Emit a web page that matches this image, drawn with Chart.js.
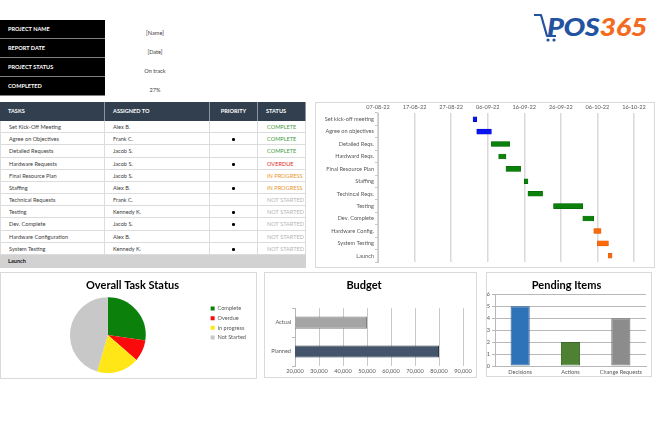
<!DOCTYPE html>
<html>
<head>
<meta charset="utf-8">
<script src="https://cdn.jsdelivr.net/npm/chart.js"></script>
<style>
body{margin:0;width:660px;height:440px;background:#fff;font-family:Lato,sans-serif;position:relative;overflow:hidden}
.abs{position:absolute;box-sizing:border-box}
.box{border:1px solid #d9d9d9;background:#fff}
.cell{position:absolute;box-sizing:border-box;font-size:5.6px;white-space:nowrap;overflow:hidden}
.info{background:#000;color:#fff;font-weight:bold;padding-left:8px;border-bottom:1px solid #7f7f7f}
.val{color:#404040;text-align:center}
.hd{background:#323f4f;color:#fff;font-weight:bold;border-right:1px solid #8a93a0}
.td{color:#404040;border-bottom:1px solid #dcdcdc;border-right:1px solid #dcdcdc}
.dot{display:inline-block;width:2.6px;height:2.6px;border-radius:50%;background:#000}
#logo{left:547px;top:12px;font-weight:900;font-style:italic;font-size:24px;letter-spacing:-0.3px;transform:scaleX(1.2);transform-origin:0 0}
</style>
</head>
<body>
<div id="tables"></div>

<svg class="abs" style="left:532px;top:12px" width="26" height="32">
  <path d="M2 3 H9 L15 24 H24" fill="none" stroke="#2352a0" stroke-width="2.2" stroke-linejoin="round"/>
  <circle cx="16" cy="28" r="1.6" fill="#2352a0"/>
  <circle cx="22" cy="28" r="1.6" fill="#2352a0"/>
</svg>
<div id="logo" class="abs"><span style="color:#2352a0">POS</span><span style="color:#f26b21">365</span></div>

<div class="abs box" style="left:315px;top:102px;width:340px;height:166px"></div>
<div class="abs" style="left:316px;top:103px;width:338px;height:164px"><canvas id="c-gantt"></canvas></div>

<div class="abs box" style="left:0;top:272px;width:257px;height:107px"></div>
<div class="abs" style="left:1px;top:273px;width:255px;height:105px"><canvas id="c-pie"></canvas></div>

<div class="abs box" style="left:264px;top:272px;width:213px;height:106px"></div>
<div class="abs" style="left:265px;top:273px;width:211px;height:104px"><canvas id="c-budget"></canvas></div>

<div class="abs box" style="left:486px;top:272px;width:166px;height:105px"></div>
<div class="abs" style="left:487px;top:273px;width:164px;height:103px"><canvas id="c-pend"></canvas></div>

<script>
// project summary
var infoLabels = ['PROJECT NAME', 'REPORT DATE', 'PROJECT STATUS', 'COMPLETED'];
var infoValues = ['[Name]', '[Date]', 'On track', '27%'];

// task list
var taskNames = ['Set Kick-Off Meeting','Agree on Objectives','Detailed Requests','Hardware Requests','Final Resource Plan','Staffing','Technical Requests','Testing','Dev. Complete','Hardware Configuration','System Testing'];
var taskOwners = ['Alex B.','Frank C.','Jacob S.','Jacob S.','Jacob S.','Alex B.','Frank C.','Kennedy K.','Jacob S.','Alex B.','Kennedy K.'];
var taskPriority = [0,1,0,1,0,1,0,1,1,0,1];
var taskStatus = ['COMPLETE','COMPLETE','COMPLETE','OVERDUE','IN PROGRESS','IN PROGRESS','NOT STARTED','NOT STARTED','NOT STARTED','NOT STARTED','NOT STARTED'];

// gantt
var ganttTasks = ['Set kick-off meeting','Agree on objectives','Detailed Reqs.','Hardward Reqs.','Final Resource Plan','Staffing','Techincal Reqs.','Testing','Dev. Complete','Hardware Config.','System Testing','Launch'];
var ganttStart = ['2022-09-02','2022-09-03','2022-09-07','2022-09-09','2022-09-11','2022-09-16','2022-09-17','2022-09-24','2022-10-02','2022-10-05','2022-10-06','2022-10-09'];
var ganttEnd   = ['2022-09-03','2022-09-07','2022-09-12','2022-09-11','2022-09-15','2022-09-17','2022-09-21','2022-10-02','2022-10-05','2022-10-07','2022-10-09','2022-10-10'];
var ganttPhase = ['plan','plan','build','build','build','build','build','build','build','launch','launch','launch'];
var ganttTicks = ['07-08-22','17-08-22','27-08-22','06-09-22','16-09-22','26-09-22','06-10-22','16-10-22'];
var ganttOrigin = '2022-08-07';

// pie
var statusLabels = ['Complete','Overdue','In progress','Not Started'];
var statusCounts = [3, 1, 2, 5];

// budget
var budgetLabels = ['Actual','Planned'];
var budgetValues = [50000, 80000];

// pending items
var pendLabels = ['Decisions','Actions','Change Requests'];
var pendValues = [5, 2, 4];

var phaseColor = {plan:'#0a14f0', build:'#0b800b', launch:'#fa6a0a'};
var phaseBorder = {plan:'#0000b0', build:'#056005', launch:'#d05000'};
var statusColor = {'COMPLETE':'#3f9a3f','OVERDUE':'#e21b1b','IN PROGRESS':'#e8962a','NOT STARTED':'#b4b4b4'};

// build the tables
var host = document.getElementById('tables');
function cell(cls, x, y, w, h, html, style) {
  var d = document.createElement('div');
  d.className = 'cell ' + cls;
  d.style.left = x + 'px'; d.style.top = y + 'px';
  d.style.width = w + 'px'; d.style.height = h + 'px';
  d.style.lineHeight = (h - 1) + 'px';
  if (style) d.style.cssText += style;
  d.innerHTML = html;
  host.appendChild(d);
}
for (var i = 0; i < infoLabels.length; i++) {
  cell('info', 0, 20 + i * 19, 105, 19, infoLabels[i]);
  cell('val', 105, 24 + i * 19, 100, 19, infoValues[i]);
}
var colX = [0, 105, 210, 258], colW = [105, 105, 48, 48];
var heads = ['TASKS', 'ASSIGNED TO', 'PRIORITY', 'STATUS'];
for (var c = 0; c < 4; c++) {
  cell('hd', colX[c], 102, colW[c], 19, heads[c], c == 2 ? 'text-align:center' : 'padding-left:8px');
}
for (var r = 0; r < taskNames.length; r++) {
  var y = Math.round(121 + r * 12.18), h = Math.round(121 + (r + 1) * 12.18) - y;
  cell('td', 0, y, 105, h, taskNames[r], 'padding-left:8px;border-left:1px solid #dcdcdc');
  cell('td', 105, y, 105, h, taskOwners[r], 'padding-left:8px');
  cell('td', 210, y, 48, h, taskPriority[r] ? '<span class="dot"></span>' : '', 'text-align:center');
  cell('td', 258, y, 48, h, taskStatus[r], 'padding-left:9px;color:' + statusColor[taskStatus[r]]);
}
cell('td', 0, 255, 306, 13, '<b style="color:#202020">Launch</b>', 'padding-left:8px;background:#d2d2d2;border:none');

Chart.defaults.font.family = 'Lato, sans-serif';
var gc = '#c8c8c8';
var tc = '#595959';

function dayOf(s) {
  return (Date.parse(s) - Date.parse(ganttOrigin)) / 86400000;
}

new Chart(document.getElementById('c-gantt'), {
  type: 'bar',
  data: {
    labels: ganttTasks,
    datasets: [{
      data: ganttTasks.map(function(t, i) { return [dayOf(ganttStart[i]), dayOf(ganttEnd[i])]; }),
      backgroundColor: ganttPhase.map(function(p) { return phaseColor[p]; }),
      borderColor: ganttPhase.map(function(p) { return phaseBorder[p]; }),
      borderWidth: 0.5, borderSkipped: false, barThickness: 5
    }]
  },
  options: {
    indexAxis: 'y', animation: false, responsive: true, maintainAspectRatio: false,
    layout: {padding: {left: 0, right: 20, top: 0, bottom: 5}},
    plugins: {legend: {display: false}, tooltip: {enabled: false}},
    scales: {
      x: {type: 'linear', position: 'top', min: 0, max: 70,
          ticks: {stepSize: 10, color: tc, font: {size: 5.6}, padding: 2, maxRotation: 0,
                  callback: function(v) { return ganttTicks[v / 10]; }},
          grid: {color: '#d9d9d9', lineWidth: 1.5, drawTicks: false}, border: {display: false},
          afterFit: function(s) { s.height = 10; }},
      y: {ticks: {color: tc, font: {size: 5.6}, padding: 1},
          grid: {drawOnChartArea: false, offset: true, tickLength: 3, color: '#c8c8c8'},
          border: {color: '#c8c8c8'},
          afterFit: function(s) { s.width = 62; }}
    }
  }
});

new Chart(document.getElementById('c-pie'), {
  type: 'pie',
  data: {labels: statusLabels, datasets: [{data: statusCounts, backgroundColor: ['#0b800b','#fa0a0a','#ffe617','#c8c8c8'], borderWidth: 0}]},
  options: {
    animation: false, responsive: true, maintainAspectRatio: false,
    layout: {padding: {left: 8, right: 0, bottom: 5}},
    plugins: {
      title: {display: true, text: 'Overall Task Status', color: '#000', font: {size: 11, weight: 'bold'}, padding: {top: 6, bottom: 5}},
      legend: {position: 'right', labels: {boxWidth: 4, boxHeight: 4, font: {size: 5.6}, color: tc, padding: 4}},
      tooltip: {enabled: false}
    }
  }
});

new Chart(document.getElementById('c-budget'), {
  type: 'bar',
  data: {labels: budgetLabels, datasets: [{data: budgetValues, backgroundColor: ['#a5a5a5','#44546a'], borderColor: ['#7f7f7f','#2c3848'], borderWidth: 1, borderSkipped: false, barPercentage: 0.42, categoryPercentage: 1}]},
  options: {
    indexAxis: 'y', animation: false, responsive: true, maintainAspectRatio: false,
    layout: {padding: {left: 0, right: 13, top: 0, bottom: 0}},
    plugins: {
      title: {display: true, text: 'Budget', color: '#000', font: {size: 11, weight: 'bold'}, padding: {top: 6, bottom: 16}},
      legend: {display: false}, tooltip: {enabled: false}
    },
    scales: {
      x: {min: 20000, max: 90000, ticks: {stepSize: 10000, color: tc, font: {size: 5.6}, padding: 2, maxRotation: 0,
            callback: function(v) { return v.toLocaleString('en-US'); }},
          grid: {color: gc, drawTicks: false}, border: {display: false},
          afterFit: function(s) { s.height = 11; }},
      y: {ticks: {color: tc, font: {size: 5.6}, padding: 1},
          grid: {drawOnChartArea: false, offset: true, tickLength: 3, color: '#b8b8b8'},
          border: {color: '#b8b8b8'},
          afterFit: function(s) { s.width = 30; }}
    }
  }
});

new Chart(document.getElementById('c-pend'), {
  type: 'bar',
  data: {labels: pendLabels, datasets: [{data: pendValues, backgroundColor: ['#2e72b8','#4f8133','#8c8c8c'], borderColor: ['#255d96','#3e6828','#707070'], borderWidth: 1, borderSkipped: false, barPercentage: 0.38, categoryPercentage: 1}]},
  options: {
    animation: false, responsive: true, maintainAspectRatio: false,
    layout: {padding: {left: 0, right: 5, top: 0, bottom: 0}},
    plugins: {
      title: {display: true, text: 'Pending Items', color: '#000', font: {size: 11, weight: 'bold'}, padding: {top: 6, bottom: 2}},
      legend: {display: false}, tooltip: {enabled: false}
    },
    scales: {
      x: {ticks: {color: tc, font: {size: 5.6}, padding: 3, maxRotation: 0, autoSkip: false},
          grid: {display: false, drawTicks: false}, border: {color: '#b8b8b8'},
          afterFit: function(s) { s.height = 10; }},
      y: {min: 0, max: 6, ticks: {stepSize: 1, color: tc, font: {size: 5.6}, padding: 2},
          grid: {color: '#b8b8b8', lineWidth: 1, tickLength: 3}, border: {color: '#b8b8b8'},
          afterFit: function(s) { s.width = 8; }}
    }
  }
});
</script>
</body>
</html>
